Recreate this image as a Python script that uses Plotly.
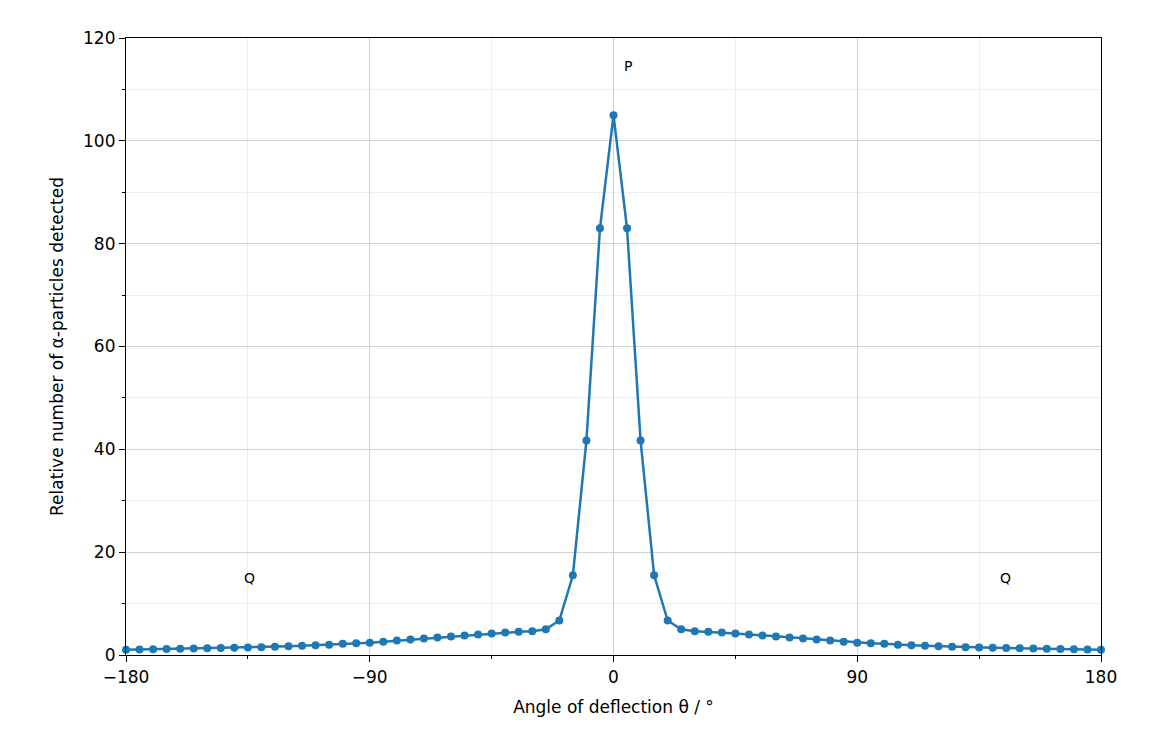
import plotly.graph_objects as go

angle = list(range(-180, 185, 5))
right_half = [105, 83, 41.7, 15.5, 6.7, 5.0, 4.6, 4.5, 4.4, 4.2, 4.0, 3.8, 3.6, 3.4,
              3.2, 3.0, 2.8, 2.6, 2.4, 2.3, 2.2, 2.0, 1.9, 1.8, 1.7, 1.6, 1.5, 1.45,
              1.4, 1.35, 1.3, 1.25, 1.2, 1.15, 1.1, 1.05, 1.0]
left_half = [1.0, 1.05, 1.1, 1.15, 1.2, 1.25, 1.3, 1.35, 1.4, 1.45, 1.5, 1.6, 1.7,
             1.8, 1.9, 2.0, 2.2, 2.3, 2.4, 2.6, 2.8, 3.0, 3.2, 3.4, 3.6, 3.8, 4.0,
             4.2, 4.4, 4.5, 4.6, 5.0, 6.7, 15.5, 41.7, 83]
counts = left_half + right_half

labels = ["P", "Q", "Q"]
label_x = [3, -137, 142]
label_y = [114.5, 15, 15]

fig = go.Figure()
fig.add_trace(go.Scatter(x=angle, y=counts, mode="lines+markers",
                         line=dict(color="#1f77b4", width=2.5),
                         marker=dict(size=8, color="#1f77b4"), cliponaxis=False))
for t, x, y in zip(labels, label_x, label_y):
    fig.add_annotation(x=x, y=y, text=t, showarrow=False, xanchor="left",
                       font=dict(size=14, color="black"))

ax = dict(showline=True, linecolor="black", linewidth=1.2, mirror=True,
          ticks="outside", tickcolor="black", ticklen=6, zeroline=False,
          gridcolor="#d0d0d8", tickfont=dict(size=17, color="black"))
fig.update_xaxes(range=[-180, 180], tickvals=[-180, -90, 0, 90, 180],
                 ticktext=["\u2212180", "\u221290", "0", "90", "180"],
                 minor=dict(tickvals=[-135, -45, 45, 135], showgrid=True,
                            gridcolor="#eeeef2", ticks="outside", ticklen=3, tickcolor="black"),
                 title=dict(text="Angle of deflection \u03b8 / \u00b0", font=dict(size=17, color="black")), **ax)
fig.update_yaxes(range=[0, 120], dtick=20,
                 minor=dict(dtick=10, showgrid=True, gridcolor="#eeeef2",
                            ticks="outside", ticklen=3, tickcolor="black"),
                 title=dict(text="Relative number of \u03b1-particles detected", font=dict(size=17, color="black")), **ax)
fig.update_layout(width=1152, height=756, plot_bgcolor="white", paper_bgcolor="white",
                  showlegend=False, font=dict(family="DejaVu Sans"),
                  margin=dict(l=118, r=59, t=30, b=109))
fig.write_html("out.html")
